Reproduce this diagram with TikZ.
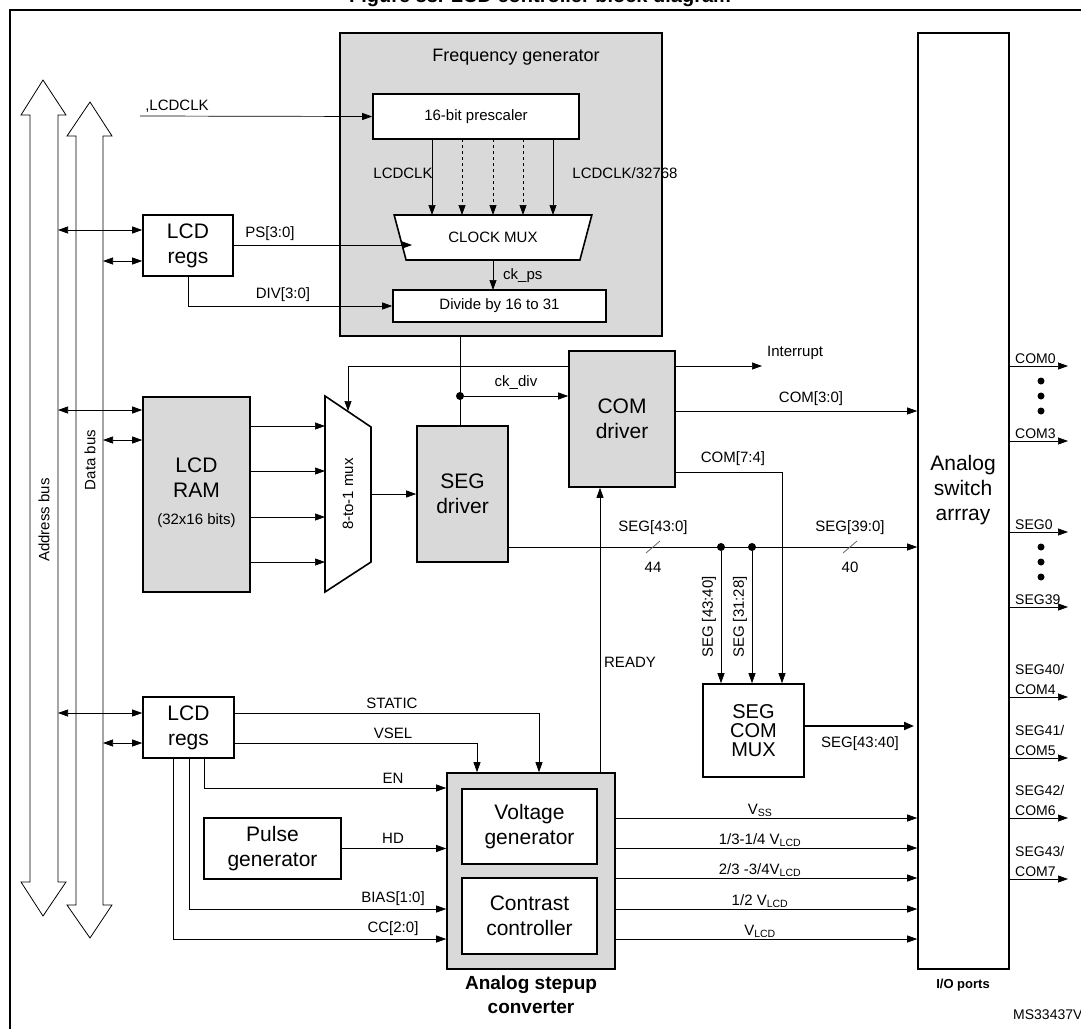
\documentclass[tikz,border=0pt]{standalone}
\usepackage{fontspec}
\setmainfont{Liberation Sans}
\usetikzlibrary{arrows.meta,shapes.geometric}
\begin{document}
\begin{tikzpicture}[x=1pt,y=-1pt,
  lw/.style={line width=0.8pt},
  box/.style={draw,line width=1.6pt,inner sep=0pt},
  gbox/.style={box,fill=black!15},
  arr/.style={line width=0.7pt,-{Triangle[length=10pt,width=7pt]}},
  darr/.style={line width=0.7pt,{Triangle[length=10pt,width=7pt]}-{Triangle[length=10pt,width=7pt]}},
  lab/.style={font=\fontsize{15}{15}\selectfont,inner sep=1pt},
  olab/.style={font=\fontsize{14}{20}\selectfont,inner sep=1pt,anchor=south west,align=left},
  big/.style={font=\fontsize{21}{25}\selectfont,align=center},
  dot/.style={circle,fill,inner sep=0pt,minimum size=8pt}]
\useasboundingbox (0,0) rectangle (1081,1028);
\clip (0,0) rectangle (1081,1028);
\node[font=\bfseries\fontsize{20}{20}\selectfont] (title) at (540,-3) {Figure 88. LCD controller block diagram};
\draw[line width=1.4pt] (10,1030) -- (10,10) -- (1085,10);
% buses
\draw[lw,fill=white] (30,882) -- (30,115) -- (21,115) -- (43,80) -- (66,115) -- (58,115) -- (58,882) -- (66,882) -- (43,916) -- (21,882) -- cycle;
\draw[lw,fill=white] (76,905) -- (76,136) -- (67,136) -- (90,102) -- (112,136) -- (103,136) -- (103,905) -- (112,905) -- (90,938) -- (67,905) -- cycle;
\node[lab,rotate=90] (abus) at (44,520) {Address bus};
\node[lab,rotate=90] (dbus) at (90,460) {Data bus};
\coordinate (A1) at (58,230); \coordinate (D1) at (103,261);
\coordinate (A2) at (58,410); \coordinate (D2) at (103,440);
\coordinate (A3) at (58,713); \coordinate (D3) at (103,743);
% frequency generator
\node[gbox,minimum width=322pt,minimum height=303pt] (fg) at (501,184.5) {};
\node[font=\fontsize{18}{18}\selectfont] (fgt) at (516,57) {Frequency generator};
\node[box,fill=white,minimum width=206pt,minimum height=45pt,font=\fontsize{15}{15}\selectfont] (pre) at (476,116.5) {16-bit prescaler};
\coordinate (lin) at (140,116);
\draw[arr] (lin) -- (pre.west);
\node[lab] (lcin) at (177,106) {,LCDCLK};
\node[box,trapezium,shape border rotate=180,trapezium stretches=true,minimum width=198pt,minimum height=45pt,trapezium left angle=60,trapezium right angle=60,fill=white,font=\fontsize{15}{15}\selectfont] (cmux) at (493,237.5) {CLOCK MUX};
\foreach \x/\s in {432/solid,462/dashed,493/dashed,523/dashed,553/solid}{
  \draw[arr,\s] (\x,139) -- (\x,215);}
\node[lab] (l1) at (403,173) {LCDCLK};
\node[lab] (l2) at (625,173) {LCDCLK/32768};
\node[box,fill=white,minimum width=213pt,minimum height=32pt,font=\fontsize{15}{15}\selectfont] (div) at (499.5,306) {Divide by 16 to 31};
\draw[arr] (493,260) -- (493,290);
\node[lab,anchor=west] (ckps) at (502,276) {ck\_ps};
% LCD regs top
\node[box,minimum width=90pt,minimum height=61pt,big] (reg1) at (188,245.5) {LCD\\regs};
\draw[darr] (A1) -- (reg1.west |- A1);
\draw[darr] (D1) -- (reg1.west |- D1);
\draw[arr] (reg1.east |- 0,245) -- (412,245);
\node[lab] (ps) at (270,234) {PS[3:0]};
\draw[arr] (reg1.south) |- (div.west);
\node[lab] (dv) at (283,295) {DIV[3:0]};
% LCD RAM
\node[gbox,minimum width=107pt,minimum height=195pt] (ram) at (196.5,494.5) {};
\node[big] (ramt) at (196.5,478) {LCD\\RAM};
\node[lab] (ramb) at (196.5,521) {(32x16 bits)};
\draw[darr] (A2) -- (ram.west |- A2);
\draw[darr] (D2) -- (ram.west |- D2);
% 8-to-1 mux
\draw[box,fill=white] (325,396) -- (371,427) -- (371,562) -- (325,592) -- cycle;
\node[lab,rotate=90] (m8) at (348,494) {8-to-1 mux};
\coordinate (m8in) at (348,411);
\foreach \y in {426,471,517,562}{ \draw[arr] (250,\y) -- (325,\y); }
% SEG driver
\node[gbox,minimum width=91pt,minimum height=136pt,big] (seg) at (462.5,494) {SEG\\driver};
\draw[arr] (371,494) -- (seg.west);
% COM driver
\node[gbox,minimum width=106pt,minimum height=136pt,big] (com) at (622,419) {COM\\driver};
\draw[lw] (fg.south -| 460,0) -- (seg.north -| 460,0);
\node[dot] (d0) at (460,396) {};
\draw[arr] (d0) -- (com.west |- d0);
\node[lab] (ckd) at (516,383) {ck\_div};
\draw[arr] (com.west |- 0,366) -| (m8in);
\draw[arr] (com.east |- 0,366) -- (762,366);
\node[lab,anchor=west] (int) at (766,353) {Interrupt};
% analog switch
\node[box,minimum width=91pt,minimum height=936pt] (sw) at (963.5,501) {};
\node[big] (swt) at (963,490) {Analog\\switch\\arrray};
\node[font=\bfseries\fontsize{13}{13}\selectfont] (io) at (963,985) {I/O ports};
\draw[arr] (com.east |- 0,411) -- (sw.west |- 0,411);
\node[lab] (c30) at (811,399) {COM[3:0]};
% SEG bus
\node[dot] (d1) at (721,547) {};
\node[dot] (d2) at (752,547) {};
\draw[arr] (seg.east |- 0,547) -- (sw.west |- 0,547);
\foreach \x in {653,850}{ \draw[black!60,lw] (\x-7,553) -- (\x+7,541); }
\node[lab] (s430) at (653,528) {SEG[43:0]};
\node[lab] (n44) at (653,567) {44};
\node[lab] (s390) at (850,528) {SEG[39:0]};
\node[lab] (n40) at (850,567) {40};
% SEG COM MUX
\node[box,minimum width=101pt,minimum height=93pt,font=\fontsize{20}{19}\selectfont,align=center] (scm) at (753.5,730.5) {SEG\\COM\\MUX};
\draw[arr] (d1) -- (d1 |- scm.north);
\draw[arr] (d2) -- (d2 |- scm.north);
\draw[arr] (com.east |- 0,472) -| (scm.north -| 782,0);
\node[lab] (c74) at (733,459) {COM[7:4]};
\node[lab,rotate=90] (s4340) at (709,617) {SEG [43:40]};
\node[lab,rotate=90] (s3128) at (740,617) {SEG [31:28]};
\draw[line width=2pt,-{Triangle[length=10pt,width=8pt]}] (scm.east |- 0,726) -- (914,726);
\node[lab] (s4340b) at (860,744) {SEG[43:40]};
% analog stepup converter
\node[gbox,minimum width=168pt,minimum height=196pt] (asc) at (531,871) {};
\node[box,fill=white,minimum width=135pt,minimum height=75pt,big] (vg) at (529.5,826.5) {Voltage\\generator};
\node[box,fill=white,minimum width=135pt,minimum height=76pt,big] (cc) at (529.5,916) {Contrast\\controller};
\node[font=\bfseries\fontsize{19}{24}\selectfont,align=center] (asct) at (531,995) {Analog stepup\\converter};
\draw[arr] (asc.north -| 600,0) -- (com.south -| 600,0);
\node[lab] (rdy) at (630,662) {READY};
\foreach \y/\t in {818/{V\textsubscript{SS}},848/{1/3-1/4 V\textsubscript{LCD}},878/{2/3 -3/4V\textsubscript{LCD}},909/{1/2 V\textsubscript{LCD}},939/{V\textsubscript{LCD}}}{
  \draw[arr] (asc.east |- 0,\y) -- (sw.west |- 0,\y);
  \node[lab,anchor=south] at (760,\y) {\t};}
% LCD regs bottom
\node[box,minimum width=91pt,minimum height=61pt,big] (reg2) at (188.5,727.5) {LCD\\regs};
\draw[darr] (A3) -- (reg2.west |- A3);
\draw[darr] (D3) -- (reg2.west |- D3);
\draw[arr] (reg2.east |- 0,713) -| (asc.north -| 539,0);
\node[lab] (st) at (392,703) {STATIC};
\draw[arr] (reg2.east |- 0,743) -| (asc.north -| 477,0);
\node[lab] (vs) at (393,733) {VSEL};
\draw[arr] (reg2.south -| 204,0) |- (asc.west |- 0,788);
\node[lab] (en) at (393,778) {EN};
\node[box,minimum width=137pt,minimum height=61pt,big] (pg) at (272.5,848.5) {Pulse\\generator};
\draw[arr] (pg.east) -- (asc.west |- pg.east);
\node[lab] (hd) at (393,838) {HD};
\draw[arr] (reg2.south -| 189,0) |- (asc.west |- 0,909);
\node[lab] (bias) at (393,899) {BIAS[1:0]};
\draw[arr] (reg2.south -| 173,0) |- (asc.west |- 0,939);
\node[lab] (ccl) at (393,929) {CC[2:0]};
% outputs
\foreach \y/\t in {366/COM0,441/COM3,532/SEG0,607/SEG39,697/{SEG40/\\COM4},758/{SEG41/\\COM5},818/{SEG42/\\COM6},879/{SEG43/\\COM7}}{
  \draw[arr] (sw.east |- 0,\y) -- (1068,\y);
  \node[olab] at (1014,\y-1) {\t};}
\foreach \y in {381,396,411,547,562,577}{ \node[dot,minimum size=7pt] at (1041,\y) {}; }
\node[font=\fontsize{14}{14}\selectfont,anchor=west,inner sep=1pt] (ms) at (1012,1015) {MS33437V1};
\end{tikzpicture}
\end{document}
